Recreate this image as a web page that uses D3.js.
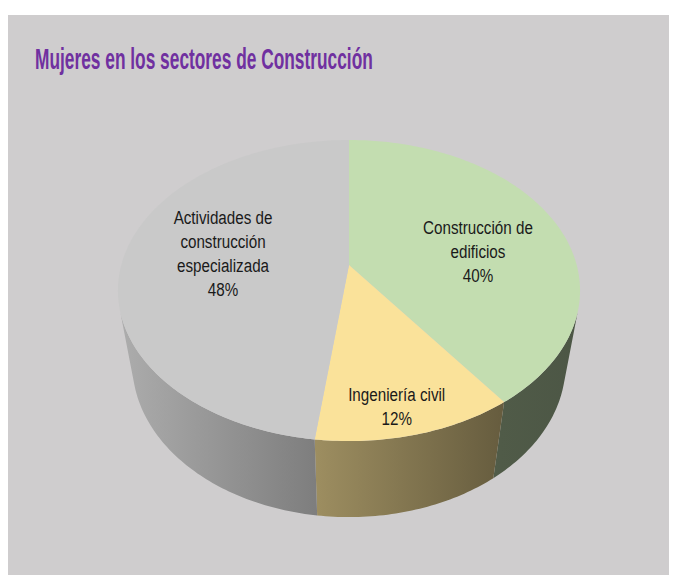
<!DOCTYPE html>
<html>
<head>
<meta charset="utf-8">
<script src="https://cdn.jsdelivr.net/npm/d3@7"></script>
<style>
  html, body { margin: 0; padding: 0; background: #ffffff; }
  svg { display: block; }
</style>
</head>
<body>
<svg id="chart" width="677" height="575"></svg>
<script>
// ---- data ----
const title = "Mujeres en los sectores de Construcción";
const categories = ["Construcción de edificios", "Ingeniería civil", "Actividades de construcción especializada"];
const labelLines = [["Construcción de", "edificios"], ["Ingeniería civil"], ["Actividades de", "construcción", "especializada"]];
const values = [40, 12, 48];
const colors = ["#c3ddb0", "#fae29a", "#c9c9c9"];

// ---- layout ----
const W = 677, H = 575;
const svg = d3.select("#chart");
const defs = svg.append("defs");
const FONT = "'Liberation Sans Narrow','Arial Narrow','Liberation Sans',Arial,sans-serif";

svg.append("rect").attr("x", 8).attr("y", 15).attr("width", 661).attr("height", 560)
  .attr("fill", "#cfcdce");

// title, horizontally condensed to the reference width
const titleG = svg.append("g");
const titleT = titleG.append("text").attr("x", 0).attr("y", 0)
  .attr("font-family", FONT).attr("font-weight", "bold").attr("font-size", 30)
  .attr("fill", "#7030a0").text(title);
const tw = titleT.node().getComputedTextLength();
titleG.attr("transform", `translate(35,69) scale(${338 / tw},1)`);

// perspective projection of a pie lying on a plane
const cx = 349, cy = 265;
const tilt = 39.95 * Math.PI / 180;
const sn = Math.sin(tilt), cs = Math.cos(tilt);
const Dcam = 4.52, focal = 1029.2, thick = 0.455;
function proj(theta, r, y) {
  const x3 = r * Math.sin(theta), z3 = -r * Math.cos(theta);
  const depth = Dcam - (y * sn + z3 * cs);
  return [cx + focal * x3 / depth, cy - focal * (y * cs - z3 * sn) / depth];
}
function arcPts(a0, a1, r, y) {
  const n = Math.max(2, Math.ceil(Math.abs(a1 - a0) * 60));
  return d3.range(n + 1).map(i => proj(a0 + (a1 - a0) * i / n, r, y));
}
const line = d3.line();

const arcs = d3.pie().sort(null).value(d => d)(values);

// visible part of the outer rim
const visA = Math.acos(-1 / (Dcam * cs));
const visB = 2 * Math.PI - visA;

// side shading gradient (light on the left, darker to the right)
const gx0 = 118, gx1 = 581;
const shade = [[0, 0.86], [(500 - gx0) / (gx1 - gx0), 0.41], [1, 0.39]];

const gSide = svg.append("g");
const gTop = svg.append("g");

arcs.forEach((a, i) => {
  const base = d3.rgb(colors[i]);
  const gid = "side" + i;
  const lg = defs.append("linearGradient").attr("id", gid)
    .attr("gradientUnits", "userSpaceOnUse")
    .attr("x1", gx0).attr("x2", gx1).attr("y1", 0).attr("y2", 0);
  shade.forEach(([o, b]) => {
    lg.append("stop").attr("offset", o)
      .attr("stop-color", d3.rgb(base.r * b, base.g * b, base.b * b).formatHex());
  });
  const s0 = Math.max(a.startAngle, visA), s1 = Math.min(a.endAngle, visB);
  if (s1 > s0) {
    const topE = arcPts(s0, s1, 1, 0);
    const botE = arcPts(s1, s0, 1, -thick);
    gSide.append("path").attr("d", line(topE.concat(botE)) + "Z")
      .attr("fill", `url(#${gid})`);
  }
  const pts = [proj(0, 0, 0)].concat(arcPts(a.startAngle, a.endAngle, 1, 0));
  gTop.append("path").attr("d", line(pts) + "Z").attr("fill", colors[i]);
});

// labels
const labelOffset = [[3, 12], [10, 47], [9.5, -6.5]];
const fontSize = 19, lh = 24, condense = 0.8;
arcs.forEach((a, i) => {
  const mid = (a.startAngle + a.endAngle) / 2;
  const p = proj(mid, 0.6, 0);
  const lx = p[0] + labelOffset[i][0], ly = p[1] + labelOffset[i][1];
  const lines = labelLines[i].concat([d3.format(".0f")(values[i] / d3.sum(values) * 100) + "%"]);
  const g = svg.append("g").attr("transform", `translate(${lx},0) scale(${condense},1)`);
  const t = g.append("text")
    .attr("font-family", FONT)
    .attr("font-size", fontSize).attr("fill", "#1a1a1a").attr("text-anchor", "middle");
  lines.forEach((s, k) => {
    t.append("tspan").attr("x", 0)
      .attr("y", ly - (lines.length - 1) * lh / 2 + k * lh + 7)
      .text(s);
  });
});
</script>
</body>
</html>
